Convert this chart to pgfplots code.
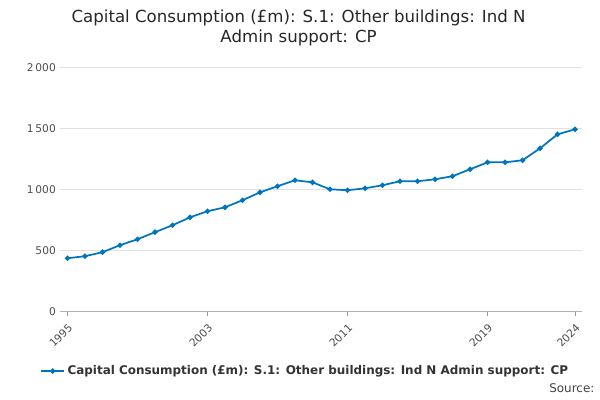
\documentclass[border=0pt]{standalone}
\usepackage{fontspec}
\setmainfont{DejaVu Sans}
\usepackage{pgfplots}
\pgfplotsset{compat=1.18}
\definecolor{ln}{HTML}{0075BF}
\begin{document}
\begin{tikzpicture}
\path[use as bounding box] (0,0) rectangle (15.875cm,10.583cm);
\node[align=center,font=\fontsize{12.5}{15}\selectfont,text=black!85] at (7.9cm,9.85cm) {Capital Consumption (£m): S.1: Other buildings: Ind N\\Admin support: CP};
\begin{axis}[at={(1.6cm,2.35cm)},anchor=south west,width=13.8cm,height=6.45cm,scale only axis,
xmin=1994.6,xmax=2024.4,ymin=0,ymax=2000,
xtick={1995,2003,2011,2019,2024},
xticklabel style={rotate=45,anchor=north east,font=\footnotesize,text=black!70},
yticklabel style={font=\footnotesize,text=black!70},
ytick={0,500,1000,1500,2000},
yticklabels={0,500,1\,000,1\,500,2\,000},
/pgf/number format/assume math mode=true,
xticklabel={\pgfmathprintnumber[1000 sep={}]{\tick}},
axis x line*=bottom, axis y line*=left,
y axis line style={draw=none},
x axis line style={draw=black!30,-},
ymajorgrids, grid style={black!12},
tick style={black!40}, ytick style={draw=none},
xtick align=outside, major tick length=4pt,
legend style={at={(0.47,-0.2)},anchor=north,draw=none,font=\small\bfseries,text=black!80},
legend cell align=left,
]
\addplot[ln,line width=1.3pt,mark=*,mark size=1.3pt] coordinates {
(1995,434)(1996,451)(1997,484)(1998,541)(1999,590)(2000,648)(2001,705)(2002,770)(2003,820)(2004,852)
(2005,910)(2006,975)(2007,1025)(2008,1074)(2009,1057)(2010,1000)(2011,992)(2012,1008)(2013,1033)(2014,1066)
(2015,1066)(2016,1082)(2017,1107)(2018,1164)(2019,1221)(2020,1221)(2021,1238)(2022,1336)(2023,1451)(2024,1492)};
\addlegendentry{Capital Consumption (£m): S.1: Other buildings: Ind N Admin support: CP}
\end{axis}
\node[anchor=east,font=\small,text=black!75] at (15.85cm,0.3cm) {Source:};
\end{tikzpicture}
\end{document}
